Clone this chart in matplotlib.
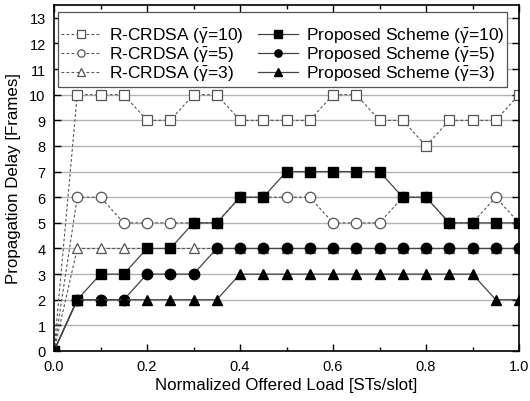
import matplotlib
matplotlib.use("Agg")
import matplotlib.pyplot as plt
from matplotlib.ticker import MultipleLocator, FormatStrFormatter

plt.rcParams['font.family'] = ['Liberation Sans', 'DejaVu Sans']
plt.rcParams['mathtext.fontset'] = 'custom'
plt.rcParams['mathtext.rm'] = 'Liberation Sans'
plt.rcParams['mathtext.it'] = 'Liberation Sans'

# offered load
load = [0.0, 0.05, 0.1, 0.15, 0.2, 0.25, 0.3, 0.35, 0.4, 0.45, 0.5,
        0.55, 0.6, 0.65, 0.7, 0.75, 0.8, 0.85, 0.9, 0.95, 1.0]

crdsa_g10 = [0, 10, 10, 10, 9, 9, 10, 10, 9, 9, 9, 9, 10, 10, 9, 9, 8, 9, 9, 9, 10]
crdsa_g5 = [0, 6, 6, 5, 5, 5, 5, 5, 6, 6, 6, 6, 5, 5, 5, 6, 6, 5, 5, 6, 5]
crdsa_g3 = [0, 4, 4, 4, 4, 4, 4, 4, 4, 4, 4, 4, 4, 4, 4, 4, 4, 4, 4, 4, 4]
prop_g10 = [0, 2, 3, 3, 4, 4, 5, 5, 6, 6, 7, 7, 7, 7, 7, 6, 6, 5, 5, 5, 5]
prop_g5 = [0, 2, 2, 2, 3, 3, 3, 4, 4, 4, 4, 4, 4, 4, 4, 4, 4, 4, 4, 4, 4]
prop_g3 = [0, 2, 2, 2, 2, 2, 2, 2, 3, 3, 3, 3, 3, 3, 3, 3, 3, 3, 3, 2, 2]

fig = plt.figure(figsize=(5.3, 4.02), dpi=100)
ax = fig.add_axes([54 / 530, 50 / 402, 465 / 530, 346 / 402])

ax.yaxis.grid(True, color='#b4b4b4', linewidth=1.0)
ax.set_axisbelow(True)

dash = dict(color='#555555', linestyle=(0, (2.5, 2)), linewidth=0.8,
            markerfacecolor='white', markeredgecolor='#555555',
            markeredgewidth=0.9, markersize=7.5)
solid = dict(color='#444444', linestyle='-', linewidth=0.9,
             markerfacecolor='black', markeredgecolor='black', markersize=7.5)

h1, = ax.plot(load, crdsa_g10, marker='s', label=r'R-CRDSA ($\bar{\gamma}$=10)', **dash)
h2, = ax.plot(load, crdsa_g5, marker='o', label=r'R-CRDSA ($\bar{\gamma}$=5)', **dash)
h3, = ax.plot(load, crdsa_g3, marker='^', label=r'R-CRDSA ($\bar{\gamma}$=3)', **dash)
h4, = ax.plot(load, prop_g10, marker='s', label=r'Proposed Scheme ($\bar{\gamma}$=10)', **solid)
h5, = ax.plot(load, prop_g5, marker='o', label=r'Proposed Scheme ($\bar{\gamma}$=5)', **solid)
h6, = ax.plot(load, prop_g3, marker='^', label=r'Proposed Scheme ($\bar{\gamma}$=3)', **solid)

ax.set_xlim(0, 1.0)
ax.set_ylim(0, 13.5)
ax.xaxis.set_major_locator(MultipleLocator(0.2))
ax.xaxis.set_minor_locator(MultipleLocator(0.1))
ax.yaxis.set_major_locator(MultipleLocator(1))
ax.xaxis.set_major_formatter(FormatStrFormatter('%.1f'))
ax.tick_params(which='both', direction='in', top=True, right=True,
               labelsize=10.5, width=1.0)
ax.tick_params(which='major', length=5)
ax.tick_params(which='minor', length=3)
ax.tick_params(axis='x', pad=6)
ax.tick_params(axis='y', pad=6)
for s in ax.spines.values():
    s.set_linewidth(1.2)

ax.set_xlabel('Normalized Offered Load [STs/slot]', fontsize=12.2, labelpad=3)
ax.set_ylabel('Propagation Delay [Frames]', fontsize=12.2, labelpad=6)

leg = ax.legend(handles=[h1, h2, h3, h4, h5, h6], ncol=2, loc='upper left',
                bbox_to_anchor=(4 / 465, 0.98), title=' ', title_fontsize=7,
                fontsize=12.5, frameon=True, markerscale=0.7,
                fancybox=False, edgecolor='#555555', framealpha=1,
                handlelength=2.3, handletextpad=0.45, columnspacing=0.8,
                borderpad=0.2, labelspacing=0.0, borderaxespad=0)
leg.get_frame().set_linewidth(0.9)

fig.savefig('out.png', dpi=100)
